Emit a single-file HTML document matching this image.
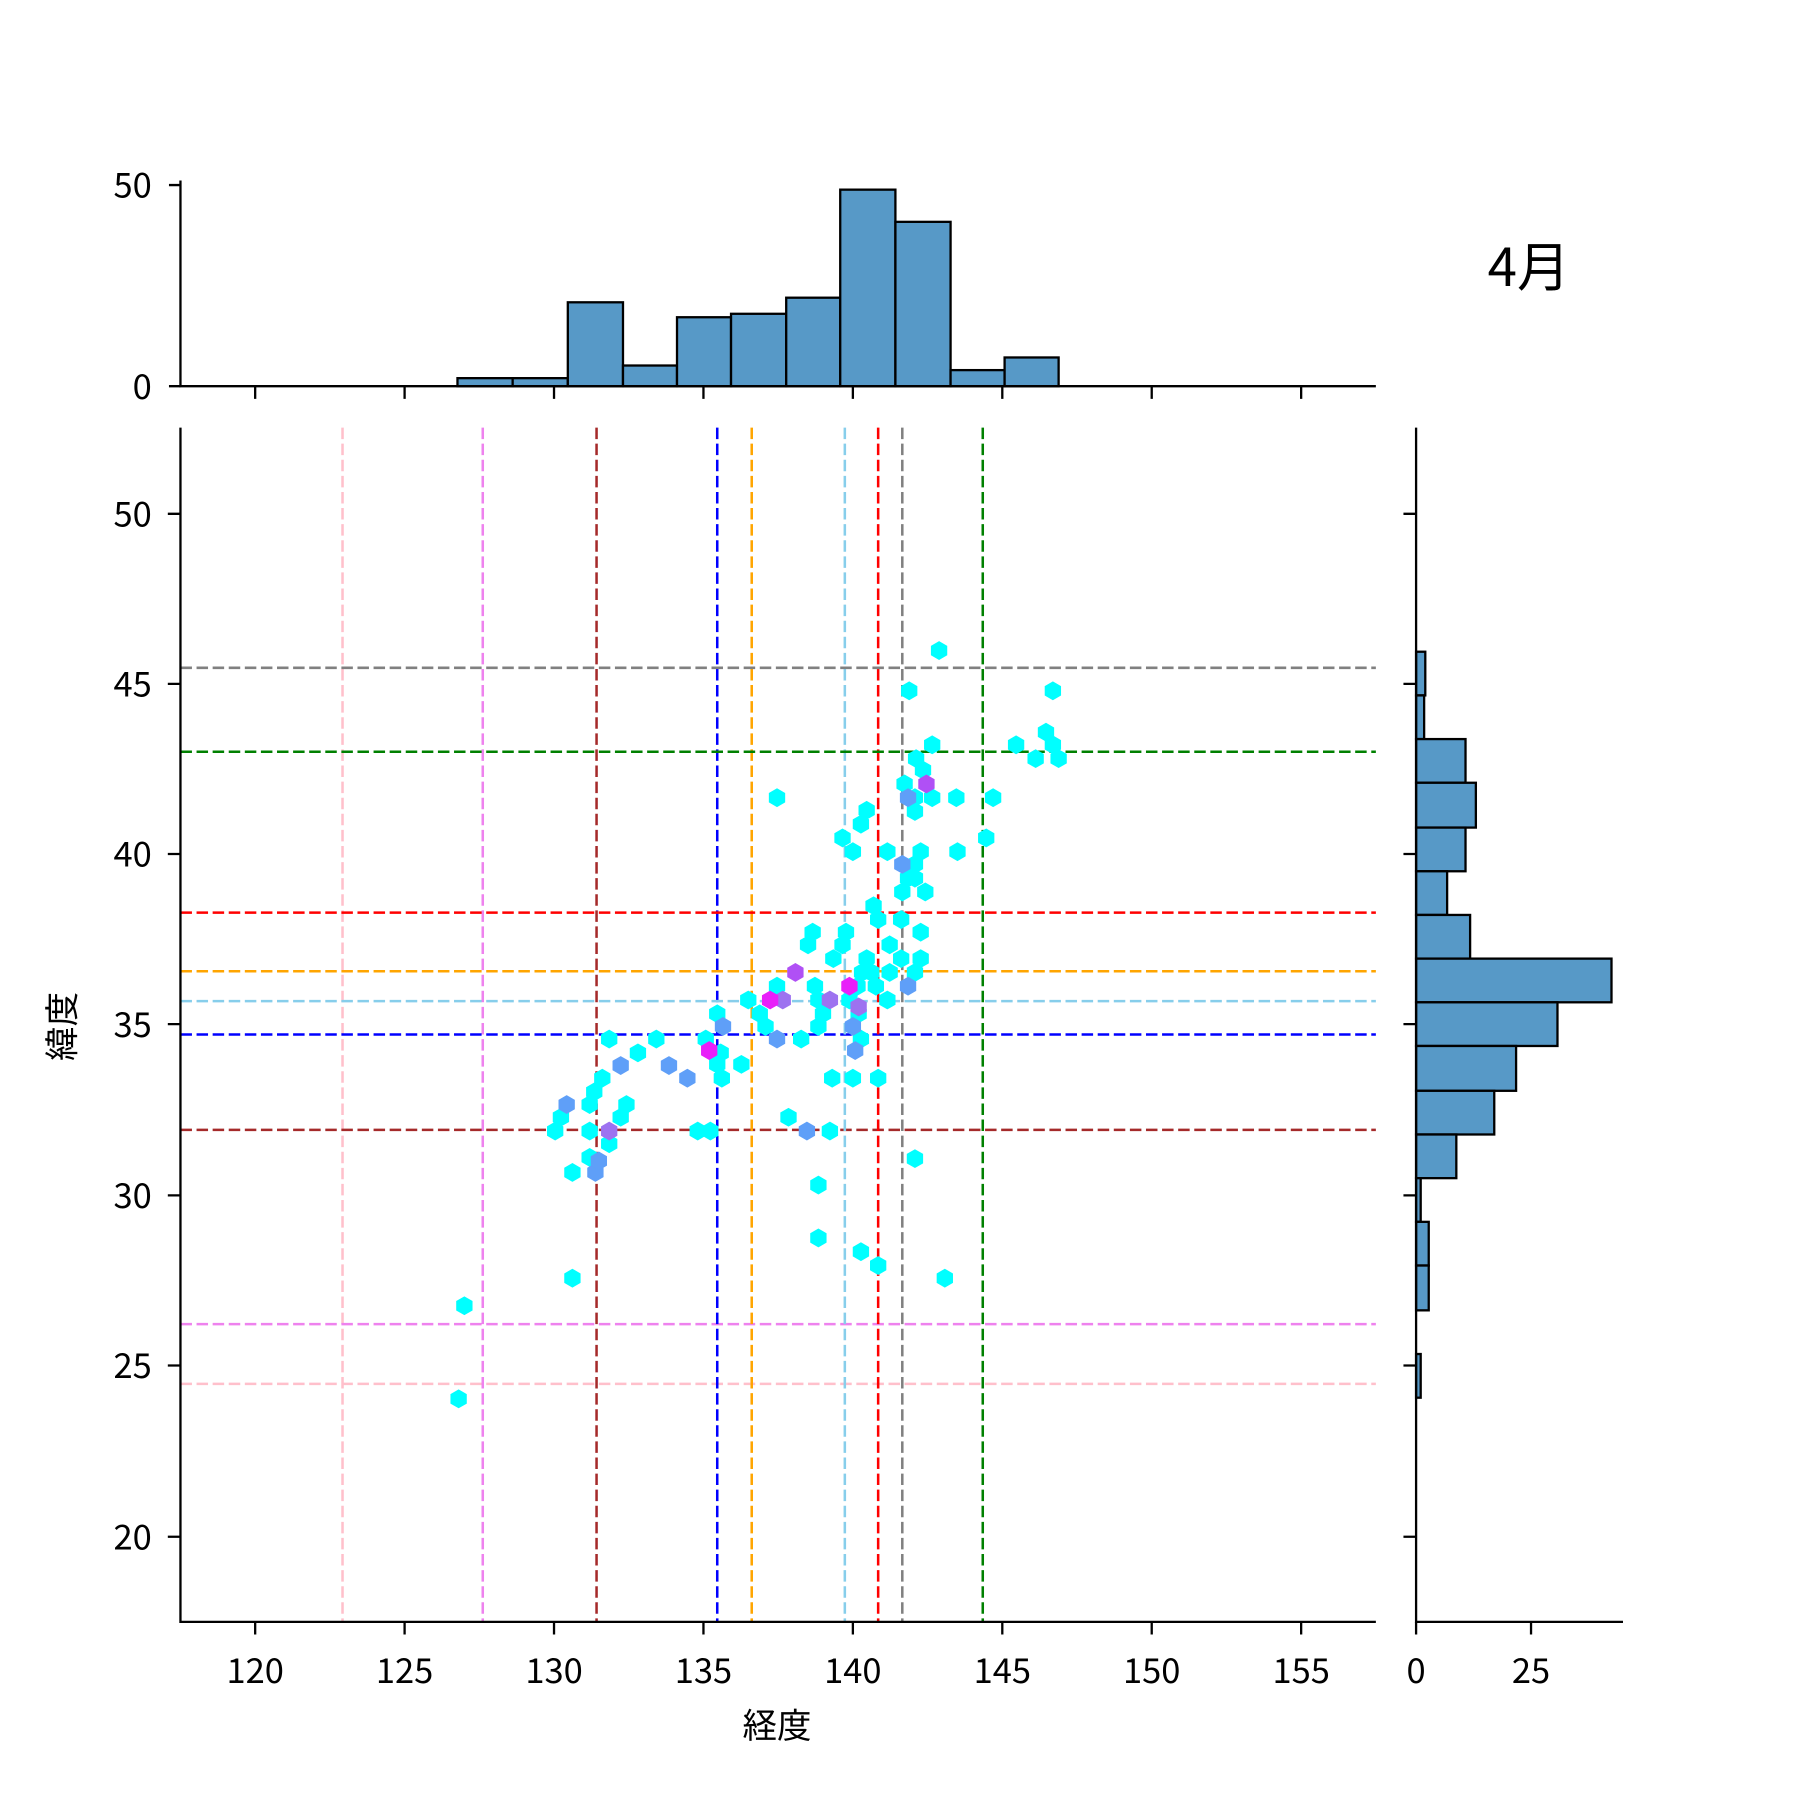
<!DOCTYPE html>
<html><head><meta charset="utf-8"><style>html,body{margin:0;padding:0;background:#fff}svg{display:block}</style></head><body>
<svg width="1800" height="1800" viewBox="0 0 1566 1566" xmlns="http://www.w3.org/2000/svg" font-family="'Noto Sans CJK JP','Liberation Sans',sans-serif">
<defs><polygon id="h" points="0,-8.2 7.1,-4.1 7.1,4.1 0,8.2 -7.1,4.1 -7.1,-4.1"/></defs>
<rect width="1566" height="1566" fill="#fff"/>
<g fill="#5799c7" stroke="#000" stroke-width="2">
<rect x="398" y="329" width="48" height="7"/><rect x="446" y="329" width="48" height="7"/>
<rect x="494" y="263" width="48" height="73"/><rect x="542" y="318" width="47" height="18"/>
<rect x="589" y="276" width="47" height="60"/><rect x="636" y="273" width="48" height="63"/>
<rect x="684" y="259" width="47" height="77"/><rect x="731" y="165" width="48" height="171"/>
<rect x="779" y="193" width="48" height="143"/><rect x="827" y="322" width="47" height="14"/>
<rect x="874" y="311" width="47" height="25"/>
</g>
<g stroke="#000" stroke-width="2" fill="none">
<path d="M157 157V336H1197"/>
<path d="M147 161H157M147 336H157"/>
<path d="M222 336v11M352 336v11M482 336v11M612 336v11M742 336v11M872 336v11M1002 336v11M1132 336v11"/>
</g>
<g font-size="30" text-anchor="end"><text x="132" y="172">50</text><text x="132" y="347">0</text></g>
<text x="1330" y="249" font-size="46" text-anchor="middle">4月</text>
<g fill="#5799c7" stroke="#000" stroke-width="2">
<rect x="1232" y="567" width="8" height="38"/><rect x="1232" y="605" width="7" height="38"/>
<rect x="1232" y="643" width="43" height="38"/><rect x="1232" y="681" width="52" height="39"/>
<rect x="1232" y="720" width="43" height="38"/><rect x="1232" y="758" width="27" height="38"/>
<rect x="1232" y="796" width="47" height="38"/><rect x="1232" y="834" width="170" height="38"/>
<rect x="1232" y="872" width="123" height="38"/><rect x="1232" y="910" width="87" height="39"/>
<rect x="1232" y="949" width="68" height="38"/><rect x="1232" y="987" width="35" height="38"/>
<rect x="1232" y="1025" width="4" height="38"/><rect x="1232" y="1063" width="11" height="38"/>
<rect x="1232" y="1101" width="11" height="39"/><rect x="1232" y="1178" width="4" height="38"/>
</g>
<g stroke="#000" stroke-width="2" fill="none">
<path d="M1232 372V1411H1412"/>
<path d="M1221 447h11M1221 595h11M1221 743h11M1221 891h11M1221 1040h11M1221 1188h11M1221 1337h11"/>
<path d="M1232 1411v11M1332 1411v11"/>
</g>
<g font-size="30" text-anchor="middle"><text x="1232" y="1464">0</text><text x="1332" y="1464">25</text></g>
<g stroke-width="2.2" stroke-dasharray="10,4" fill="none">
<path stroke="#ffc0cb" d="M298 372V1411M157 1204H1197"/>
<path stroke="#ee82ee" d="M420 372V1411M157 1152H1197"/>
<path stroke="#a52a2a" d="M519 372V1411M157 983H1197"/>
<path stroke="#0000ff" d="M624 372V1411M157 900H1197"/>
<path stroke="#ffa500" d="M654 372V1411M157 845H1197"/>
<path stroke="#87ceeb" d="M735 372V1411M157 871H1197"/>
<path stroke="#ff0000" d="M764 372V1411M157 794H1197"/>
<path stroke="#808080" d="M785 372V1411M157 581H1197"/>
<path stroke="#008000" d="M855 372V1411M157 654H1197"/>
</g>
<g fill="#00ffff">
<use href="#h" x="817" y="566"/><use href="#h" x="791" y="601"/><use href="#h" x="916" y="601"/><use href="#h" x="811" y="648"/><use href="#h" x="797" y="660"/>
<use href="#h" x="884" y="648"/><use href="#h" x="901" y="660"/><use href="#h" x="910" y="637"/><use href="#h" x="916" y="648"/><use href="#h" x="921" y="660"/>
<use href="#h" x="676" y="694"/><use href="#h" x="787" y="682"/><use href="#h" x="796" y="694"/><use href="#h" x="811" y="694"/><use href="#h" x="832" y="694"/><use href="#h" x="864" y="694"/><use href="#h" x="803" y="670"/>
<use href="#h" x="754" y="705"/><use href="#h" x="749" y="717"/><use href="#h" x="733" y="729"/><use href="#h" x="796" y="706"/><use href="#h" x="858" y="729"/>
<use href="#h" x="742" y="741"/><use href="#h" x="772" y="741"/><use href="#h" x="801" y="741"/><use href="#h" x="796" y="752"/><use href="#h" x="833" y="741"/>
<use href="#h" x="790" y="764"/><use href="#h" x="805" y="776"/><use href="#h" x="796" y="764"/><use href="#h" x="785" y="776"/><use href="#h" x="760" y="788"/><use href="#h" x="764" y="800"/>
<use href="#h" x="774" y="822"/><use href="#h" x="784" y="800"/><use href="#h" x="801" y="811"/><use href="#h" x="736" y="811"/><use href="#h" x="733" y="822"/>
<use href="#h" x="703" y="822"/><use href="#h" x="707" y="811"/><use href="#h" x="725" y="834"/><use href="#h" x="754" y="834"/><use href="#h" x="784" y="834"/>
<use href="#h" x="758" y="846"/><use href="#h" x="774" y="846"/><use href="#h" x="796" y="846"/><use href="#h" x="801" y="834"/>
<use href="#h" x="709" y="858"/><use href="#h" x="750" y="846"/><use href="#h" x="746" y="858"/><use href="#h" x="762" y="858"/><use href="#h" x="772" y="870"/>
<use href="#h" x="676" y="858"/><use href="#h" x="651" y="870"/><use href="#h" x="661" y="882"/><use href="#h" x="666" y="893"/>
<use href="#h" x="712" y="870"/><use href="#h" x="716" y="882"/><use href="#h" x="712" y="893"/><use href="#h" x="739" y="870"/><use href="#h" x="747" y="882"/><use href="#h" x="749" y="904"/>
<use href="#h" x="724" y="938"/><use href="#h" x="742" y="938"/><use href="#h" x="764" y="938"/><use href="#h" x="624" y="882"/><use href="#h" x="614" y="904"/>
<use href="#h" x="627" y="916"/><use href="#h" x="624" y="926"/><use href="#h" x="628" y="938"/><use href="#h" x="645" y="926"/><use href="#h" x="697" y="904"/>
<use href="#h" x="571" y="904"/><use href="#h" x="555" y="916"/><use href="#h" x="530" y="904"/><use href="#h" x="545" y="961"/><use href="#h" x="540" y="972"/>
<use href="#h" x="524" y="938"/><use href="#h" x="517" y="950"/><use href="#h" x="513" y="961"/><use href="#h" x="488" y="972"/><use href="#h" x="483" y="984"/>
<use href="#h" x="513" y="984"/><use href="#h" x="530" y="995"/><use href="#h" x="513" y="1007"/><use href="#h" x="498" y="1020"/><use href="#h" x="498" y="1112"/>
<use href="#h" x="686" y="972"/><use href="#h" x="722" y="984"/><use href="#h" x="607" y="984"/><use href="#h" x="618" y="984"/>
<use href="#h" x="712" y="1031"/><use href="#h" x="712" y="1077"/><use href="#h" x="749" y="1089"/><use href="#h" x="764" y="1101"/><use href="#h" x="796" y="1008"/><use href="#h" x="822" y="1112"/>
<use href="#h" x="404" y="1136"/><use href="#h" x="399" y="1217"/>
</g>
<g fill="#5f9ff8">
<use href="#h" x="785" y="752"/><use href="#h" x="790" y="858"/><use href="#h" x="676" y="904"/><use href="#h" x="742" y="893"/><use href="#h" x="744" y="914"/>
<use href="#h" x="629" y="893"/><use href="#h" x="582" y="927"/><use href="#h" x="598" y="938"/><use href="#h" x="540" y="927"/><use href="#h" x="493" y="961"/>
<use href="#h" x="518" y="1020"/><use href="#h" x="702" y="984"/><use href="#h" x="790" y="694"/><use href="#h" x="521" y="1010"/>
</g>
<g fill="#9d72f0"><use href="#h" x="681" y="870"/><use href="#h" x="530" y="984"/><use href="#h" x="722" y="870"/><use href="#h" x="747" y="876"/></g>
<g fill="#b050f5"><use href="#h" x="692" y="846"/><use href="#h" x="806" y="682"/></g>
<g fill="#e81ff9"><use href="#h" x="739" y="858"/><use href="#h" x="617" y="914"/><use href="#h" x="670" y="870"/></g>
<g stroke="#000" stroke-width="2" fill="none">
<path d="M157 372V1411H1197"/>
<path d="M146 447h11M146 595h11M146 743h11M146 891h11M146 1040h11M146 1188h11M146 1337h11"/>
<path d="M222 1411v11M352 1411v11M482 1411v11M612 1411v11M742 1411v11M872 1411v11M1002 1411v11M1132 1411v11"/>
</g>
<g font-size="30" text-anchor="end">
<text x="132" y="458">50</text><text x="132" y="606">45</text><text x="132" y="754">40</text><text x="132" y="902">35</text><text x="132" y="1051">30</text><text x="132" y="1199">25</text><text x="132" y="1348">20</text>
</g>
<g font-size="30" text-anchor="middle">
<text x="222" y="1464">120</text><text x="352" y="1464">125</text><text x="482" y="1464">130</text><text x="612" y="1464">135</text><text x="742" y="1464">140</text><text x="872" y="1464">145</text><text x="1002" y="1464">150</text><text x="1132" y="1464">155</text>
</g>
<text x="676" y="1512" font-size="30" text-anchor="middle">経度</text>
<text x="0" y="0" font-size="30" text-anchor="middle" transform="translate(65,893) rotate(-90)">緯度</text>
</svg>
</body></html>
